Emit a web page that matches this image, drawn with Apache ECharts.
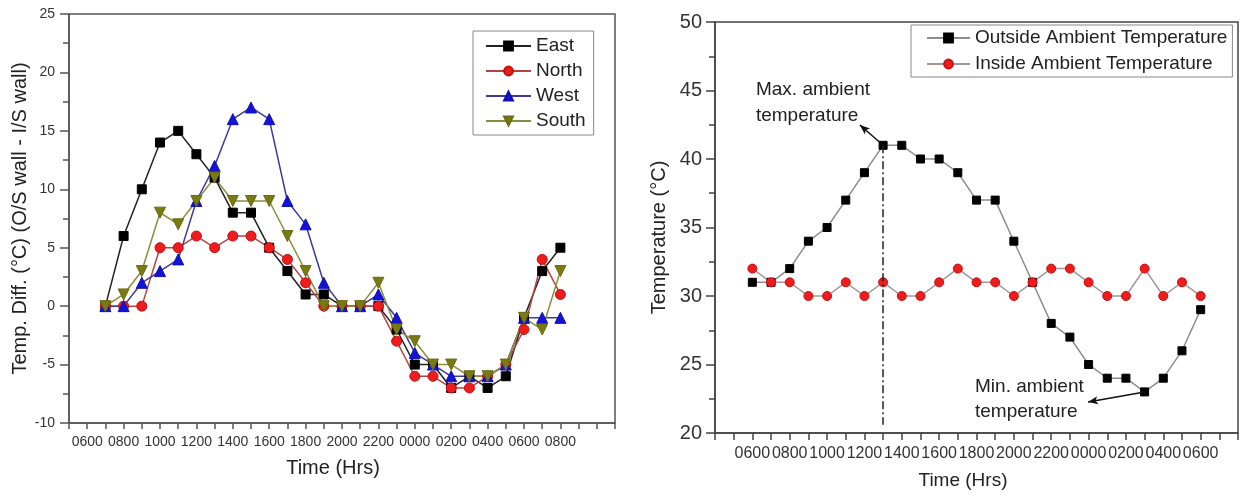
<!DOCTYPE html>
<html><head><meta charset="utf-8">
<script src="https://cdn.jsdelivr.net/npm/echarts@6/dist/echarts.min.js"></script>
<style>html,body{margin:0;padding:0;background:#fff}#c{width:1241px;height:499px}</style>
</head><body><div id="c"></div>
<script>
// ---- Left chart data (hour of day, 24+ = next day) ----
const hoursLeft = [7,8,9,10,11,12,13,14,15,16,17,18,19,20,21,22,23,24,25,26,27,28,29,30,31,32];
const east  = [0,6,10,14,15,13,11,8,8,5,3,1,1,0,0,0,-2,-5,-5,-7,-6,-7,-6,-1,3,5];
const north = [0,0,0,5,5,6,5,6,6,5,4,2,0,0,0,0,-3,-6,-6,-7,-7,-6,-5,-2,4,1];
const west  = [0,0,2,3,4,9,12,16,17,16,9,7,2,0,0,1,-1,-4,-5,-6,-6,-6,-5,-1,-1,-1];
const south = [0,1,3,8,7,9,11,9,9,9,6,3,0,0,0,2,-2,-3,-5,-5,-6,-6,-5,-1,-2,3];
const leftNames = ['East','North','West','South'];

// ---- Right chart data ----
const hoursRight = [6,7,8,9,10,11,12,13,14,15,16,17,18,19,20,21,22,23,24,25,26,27,28,29,30];
const outside = [31,31,32,34,35,37,39,41,41,40,40,39,37,37,34,31,28,27,25,24,24,23,24,26,29];
const inside  = [32,31,31,30,30,31,30,31,30,30,31,32,31,31,30,31,32,32,31,30,30,32,30,31,30];
const rightNames = ['Outside Ambient Temperature','Inside Ambient Temperature'];

// annotation anchors (data coordinates)
const maxPoint = [13, 41];
const maxArrowTip = [11.76, 42.48];
const maxDropEnd = [13, 20.6];
const minPoint = [27, 23];
const minArrowTip = [23.97, 22.26];

const FONT = "'Liberation Sans', Arial, sans-serif";
function hhmm(v){ const h = ((v % 24) + 24) % 24; return String(h * 100).padStart(4, '0'); }
function pairs(xs, ys){ return xs.map((x, i) => [x, ys[i]]); }
const downTri = 'path://M0,0 L10,0 L5,9 Z';

const chart = echarts.init(document.getElementById('c'), null, {renderer: 'canvas'});

function leftSeries(name, data, sym, size, lineColor, fill, border){
  return {
    name, type: 'line', xAxisIndex: 0, yAxisIndex: 0,
    data: pairs(hoursLeft, data),
    symbol: sym, symbolSize: size, showAllSymbol: true,
    lineStyle: {color: lineColor, width: 1.5},
    itemStyle: {color: fill, borderColor: border, borderWidth: 1},
    emphasis: {disabled: true}, animation: false
  };
}

const axisCommon = (fs, color) => ({
  axisLine: {show: true, onZero: false, lineStyle: {color: color, width: 1.5}},
  axisTick: {show: true, inside: false, length: 6, lineStyle: {color: color, width: 1.5}},
  splitLine: {show: false},
  axisLabel: {color: '#333', fontSize: fs, fontFamily: FONT},
  nameTextStyle: {color: '#222', fontSize: 20, fontFamily: FONT}
});

const option = {
  backgroundColor: '#fff',
  animation: false,
  textStyle: {fontFamily: FONT},
  grid: [
    {left: 69, top: 14, width: 546, height: 409, show: true, borderColor: '#555', borderWidth: 1.5, containLabel: false},
    {left: 715, top: 22, width: 523, height: 411, show: true, borderColor: '#444', borderWidth: 1.5, containLabel: false}
  ],
  xAxis: [
    Object.assign(axisCommon(14, '#555'), {
      type: 'value', gridIndex: 0, min: 5, max: 35, interval: 1,
      name: 'Time (Hrs)', nameLocation: 'middle', nameGap: 35,
      nameTextStyle: {color: '#222', fontSize: 20, fontFamily: FONT, padding: [0, 18, 0, 0]},
      axisLabel: {color: '#333', fontSize: 14, fontFamily: FONT, margin: 12, hideOverlap: false,
        formatter: v => (v >= 6 && v <= 32 && v % 2 === 0) ? hhmm(v) : ''}
    }),
    Object.assign(axisCommon(16, '#444'), {
      type: 'value', gridIndex: 1, min: 4, max: 32, interval: 1,
      name: 'Time (Hrs)', nameLocation: 'middle', nameGap: 38,
      nameTextStyle: {color: '#222', fontSize: 19, fontFamily: FONT, padding: [0, 27, 0, 0]},
      axisTick: {show: true, length: 7, lineStyle: {color: '#444', width: 1.5}},
      axisLabel: {color: '#333', fontSize: 16, fontFamily: FONT, margin: 13, hideOverlap: false,
        formatter: v => (v >= 6 && v <= 30 && v % 2 === 0) ? hhmm(v) : ''}
    })
  ],
  yAxis: [
    Object.assign(axisCommon(14, '#555'), {
      type: 'value', gridIndex: 0, min: -10, max: 25, interval: 5,
      name: 'Temp. Diff. (\u00B0C) (O/S wall - I/S wall)', nameLocation: 'middle', nameGap: 38,
      nameTextStyle: {color: '#222', fontSize: 20, fontFamily: FONT},
      axisTick: {show: true, length: 9, lineStyle: {color: '#555', width: 1.5}},
      minorTick: {show: true, splitNumber: 2, length: 6, lineStyle: {color: '#555', width: 1.5}},
      axisLabel: {color: '#333', fontSize: 14, fontFamily: FONT, margin: 14}
    }),
    Object.assign(axisCommon(20, '#444'), {
      type: 'value', gridIndex: 1, min: 20, max: 50, interval: 5,
      name: 'Temperature (\u00B0C)', nameLocation: 'middle', nameGap: 46,
      nameTextStyle: {color: '#222', fontSize: 20, fontFamily: FONT, padding: [0, 20, 0, 0]},
      axisTick: {show: true, length: 9, lineStyle: {color: '#444', width: 1.5}},
      minorTick: {show: true, splitNumber: 2, length: 6, lineStyle: {color: '#444', width: 1.5}},
      axisLabel: {color: '#333', fontSize: 20, fontFamily: FONT, margin: 13}
    })
  ],
  legend: [
    {
      data: leftNames, orient: 'vertical', left: 473, top: 31,
      itemWidth: 45, itemHeight: 11, itemGap: 5,
      padding: [5, 8, 4, 12], borderColor: '#888', borderWidth: 1, backgroundColor: '#fff',
      textStyle: {color: '#222', fontSize: 19, lineHeight: 20, fontFamily: FONT},
      selectedMode: false
    },
    {
      data: rightNames, orient: 'vertical', left: 911, top: 25,
      itemWidth: 43, itemHeight: 11, itemGap: 6,
      padding: [3, 5, 3, 15], borderColor: '#888', borderWidth: 1, backgroundColor: '#fff',
      textStyle: {color: '#222', fontSize: 19, lineHeight: 20, fontFamily: FONT},
      selectedMode: false
    }
  ],
  series: [
    leftSeries('East', east, 'rect', 9, '#222', '#000', '#000'),
    leftSeries('North', north, 'circle', 10, '#b04545', '#ee1c1c', '#c01010'),
    leftSeries('West', west, 'triangle', 11, '#3b3b9b', '#1414d8', '#1010b0'),
    leftSeries('South', south, downTri, 11, '#8c8c3c', '#7a7a12', '#6a6a10'),
    {
      name: rightNames[0], type: 'line', xAxisIndex: 1, yAxisIndex: 1,
      data: pairs(hoursRight, outside),
      symbol: 'rect', symbolSize: 8, showAllSymbol: true,
      lineStyle: {color: '#8c8c8c', width: 1.5},
      itemStyle: {color: '#000', borderColor: '#000', borderWidth: 1},
      emphasis: {disabled: true},
      markLine: {
        silent: true, animation: false, label: {show: false},
        symbol: ['none', 'none'],
        data: [
          [{coord: maxPoint, symbol: 'none', lineStyle: {color: '#222', width: 1.5, type: [8, 3, 2, 3]}},
           {coord: maxDropEnd, symbol: 'none'}],
          [{coord: maxPoint, symbol: 'none', lineStyle: {color: '#111', width: 1.5, type: 'solid'}},
           {coord: maxArrowTip, symbol: 'arrow', symbolSize: [6, 10]}],
          [{coord: minPoint, symbol: 'none', lineStyle: {color: '#111', width: 1.5, type: 'solid'}},
           {coord: minArrowTip, symbol: 'arrow', symbolSize: [6, 10]}]
        ]
      }
    },
    {
      name: rightNames[1], type: 'line', xAxisIndex: 1, yAxisIndex: 1,
      data: pairs(hoursRight, inside),
      symbol: 'circle', symbolSize: 9, showAllSymbol: true,
      lineStyle: {color: '#a59595', width: 1.5},
      itemStyle: {color: '#ee1c1c', borderColor: '#c81010', borderWidth: 1},
      emphasis: {disabled: true}
    }
  ]
};
chart.setOption(option);

// annotation texts, placed relative to data anchors
const pMax = chart.convertToPixel({gridIndex: 1}, maxArrowTip);
const pMin = chart.convertToPixel({gridIndex: 1}, minArrowTip);
chart.setOption({
  graphic: [
    {type: 'text', left: pMax[0] - 104, top: pMax[1] - 48,
     style: {text: 'Max. ambient\ntemperature', font: '19px ' + FONT, fill: '#222', lineHeight: 26}},
    {type: 'text', left: pMin[0] - 113, top: pMin[1] - 28,
     style: {text: 'Min. ambient\ntemperature', font: '19px ' + FONT, fill: '#222', lineHeight: 25}}
  ]
});
</script>
</body></html>
